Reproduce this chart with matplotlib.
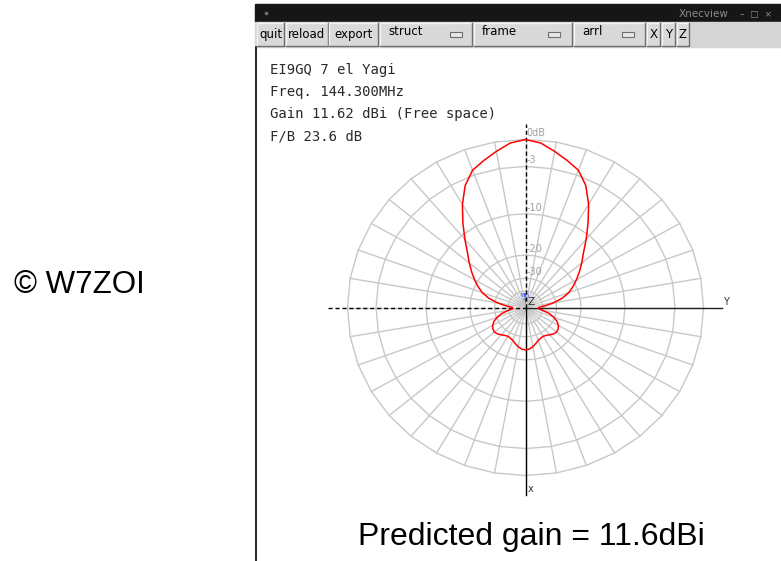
import numpy as np
import matplotlib.pyplot as plt
from matplotlib.patches import Rectangle

# Horizontal pattern of the 7 el Yagi (dB below max).
# Half pattern from the main lobe (0 deg) round to the back (180 deg), mirrored.
azimuth_deg = np.arange(0, 181, 5)
gain_db = [0.0, -0.3, -1.0, -1.7, -2.4, -3.8, -5.9, -8.4, -10.9, -13.3,
           -15.2, -17.1, -19.0, -21.0, -23.2, -26.5, -31.5, -38.0, -45.0, -45.0,
           -40.0, -34.0, -30.5, -28.0, -26.5, -25.7, -25.4, -25.8, -26.6, -27.4,
           -27.8, -27.5, -26.9, -25.8, -24.7, -23.9, -23.6]

ring_db = [0, -3, -10, -20, -30, -40]
ring_labels = ['0dB', '-3', '-10', '-20', '-30']
info_lines = ['EI9GQ 7 el Yagi', 'Freq. 144.300MHz',
              'Gain 11.62 dBi (Free space)', 'F/B 23.6 dB']
buttons = ['quit', 'reload', 'export']
menus = ['struct', 'frame', 'arrl']
view_buttons = ['X', 'Y', 'Z']


def arrl(db):
    # ARRL log-periodic radius scale
    return 0.89 ** (-np.asarray(db, dtype=float) / 2)


# full pattern
ang = np.concatenate([azimuth_deg, 360 - azimuth_deg[::-1][1:]])
gains = np.concatenate([gain_db, gain_db[::-1][1:]])

W, H = 781, 561
fig = plt.figure(figsize=(W / 100, H / 100), dpi=100)

# window chrome, in pixel coordinates
bg = fig.add_axes([0, 0, 1, 1])
bg.set_xlim(0, W)
bg.set_ylim(H, 0)
bg.axis('off')

bg.add_patch(Rectangle((255, 4), W - 255, 18, color='#161616'))
bg.add_patch(Rectangle((255, 22), W - 255, 25, color='#d6d6d6'))
bg.plot([256, 256], [47, H], color='black', lw=1.2)
bg.plot(266, 13, marker='s', ms=1.5, color='#707070')
bg.text(704, 14, 'Xnecview', color='#8a8a8a', fontsize=7.5, ha='center', va='center')
bg.text(740, 14, '\u2013  \u25a1  \u00d7', color='#8a8a8a', fontsize=6.5, ha='left', va='center')


def button(x0, x1, label, tx=None, ty=34.5):
    y0, y1 = 23, 46
    bg.add_patch(Rectangle((x0, y0), x1 - x0, y1 - y0, color='#d9d9d9'))
    bg.plot([x0, x0, x1], [y1, y0, y0], color='#f4f4f4', lw=1)
    bg.plot([x0, x1, x1], [y1, y1, y0], color='#6e6e6e', lw=1)
    if tx is None:
        bg.text((x0 + x1) / 2, ty, label, fontsize=8.5, ha='center', va='center')
    else:
        bg.text(tx, ty, label, fontsize=8.5, ha='left', va='center')


for lab, (x0, x1) in zip(buttons, [(257, 284), (285.5, 327.5), (329, 378)]):
    button(x0, x1, lab)
for lab, (x0, x1), ind in zip(menus, [(380, 472), (474, 572), (574, 645)],
                              [450, 548, 622]):
    button(x0, x1, lab, tx=x0 + 8, ty=31)
    bg.add_patch(Rectangle((ind, 32), 12, 4.5, facecolor='#e8e8e8',
                           edgecolor='#6e6e6e', lw=0.8))
for lab, (x0, x1) in zip(view_buttons, [(646.5, 660), (661.5, 675), (676.5, 688.5)]):
    button(x0, x1, lab)

for i, line in enumerate(info_lines):
    bg.text(270, 70 + i * 22, line, family='DejaVu Sans Mono', fontsize=10,
            color='#2a2a2a', va='center')

bg.text(79, 285, '\u00a9 W7ZOI', family='Liberation Sans', fontsize=22.5,
        ha='center', va='center')
bg.text(531, 537, 'Predicted gain = 11.6dBi', family='Liberation Sans',
        fontsize=23, ha='center', va='center')

# antenna drawing at the centre
bg.add_patch(Rectangle((522.5, 298), 4.5, 10, color='#1030ff'))
bg.plot([522, 528], [293.5, 293.5], color='#1030ff', lw=1.2)
bg.plot([522, 528], [296, 296], color='#1030ff', lw=1.2)

# polar plot area (slightly stretched, as in the screenshot)
CX, CY, SX, SY, EXT = 525.5, 307.5, 178.0, 168.0, 1.1
ax = fig.add_axes([(CX - EXT * SX) / W, (H - CY - EXT * SY) / H,
                   2 * EXT * SX / W, 2 * EXT * SY / H])
ax.set_xlim(-EXT, EXT)
ax.set_ylim(-EXT, EXT)
ax.axis('off')
ax.patch.set_alpha(0)

grid_col = '#c8c8c8'
th = np.radians(np.arange(0, 361, 10))
for db in ring_db:
    r = arrl(db)
    ax.plot(r * np.sin(th), r * np.cos(th), color=grid_col, lw=1, zorder=1)
for a in th[:-1]:
    ax.plot([0, np.sin(a)], [0, np.cos(a)], color=grid_col, lw=1, zorder=1)
for db, lab in zip(ring_db, ring_labels):
    ax.text(0.003, arrl(db) + 0.036, lab, color='#a0a0a0', fontsize=7,
            va='center', ha='left', zorder=2)

# axes: dashed towards negative, solid towards positive
ax.plot([-1.108, 0], [0, 0], color='black', lw=1, ls=(0, (3, 2)), clip_on=False, zorder=3)
ax.plot([0, 1.105], [0, 0], color='#202020', lw=1, clip_on=False, zorder=3)
ax.plot([0, 0], [0, 1.09], color='black', lw=1, ls=(0, (3, 2)), clip_on=False, zorder=3)
ax.plot([0, 0], [0, -1.116], color='black', lw=1, clip_on=False, zorder=3)
ax.text(1.124, 0.034, 'Y', fontsize=7, color='#303030', ha='center', va='center')
ax.text(0.03, -1.08, 'x', fontsize=7, color='#303030', ha='center', va='center')
ax.text(0.03, 0.03, 'Z', fontsize=7.5, color='#303030', ha='center', va='center', zorder=5)

# radiation pattern
r = arrl(gains)
t = np.radians(ang)
ax.plot(r * np.sin(t), r * np.cos(t), color='#ff0000', lw=1.1, zorder=4)

fig.savefig('out.png', dpi=100)
